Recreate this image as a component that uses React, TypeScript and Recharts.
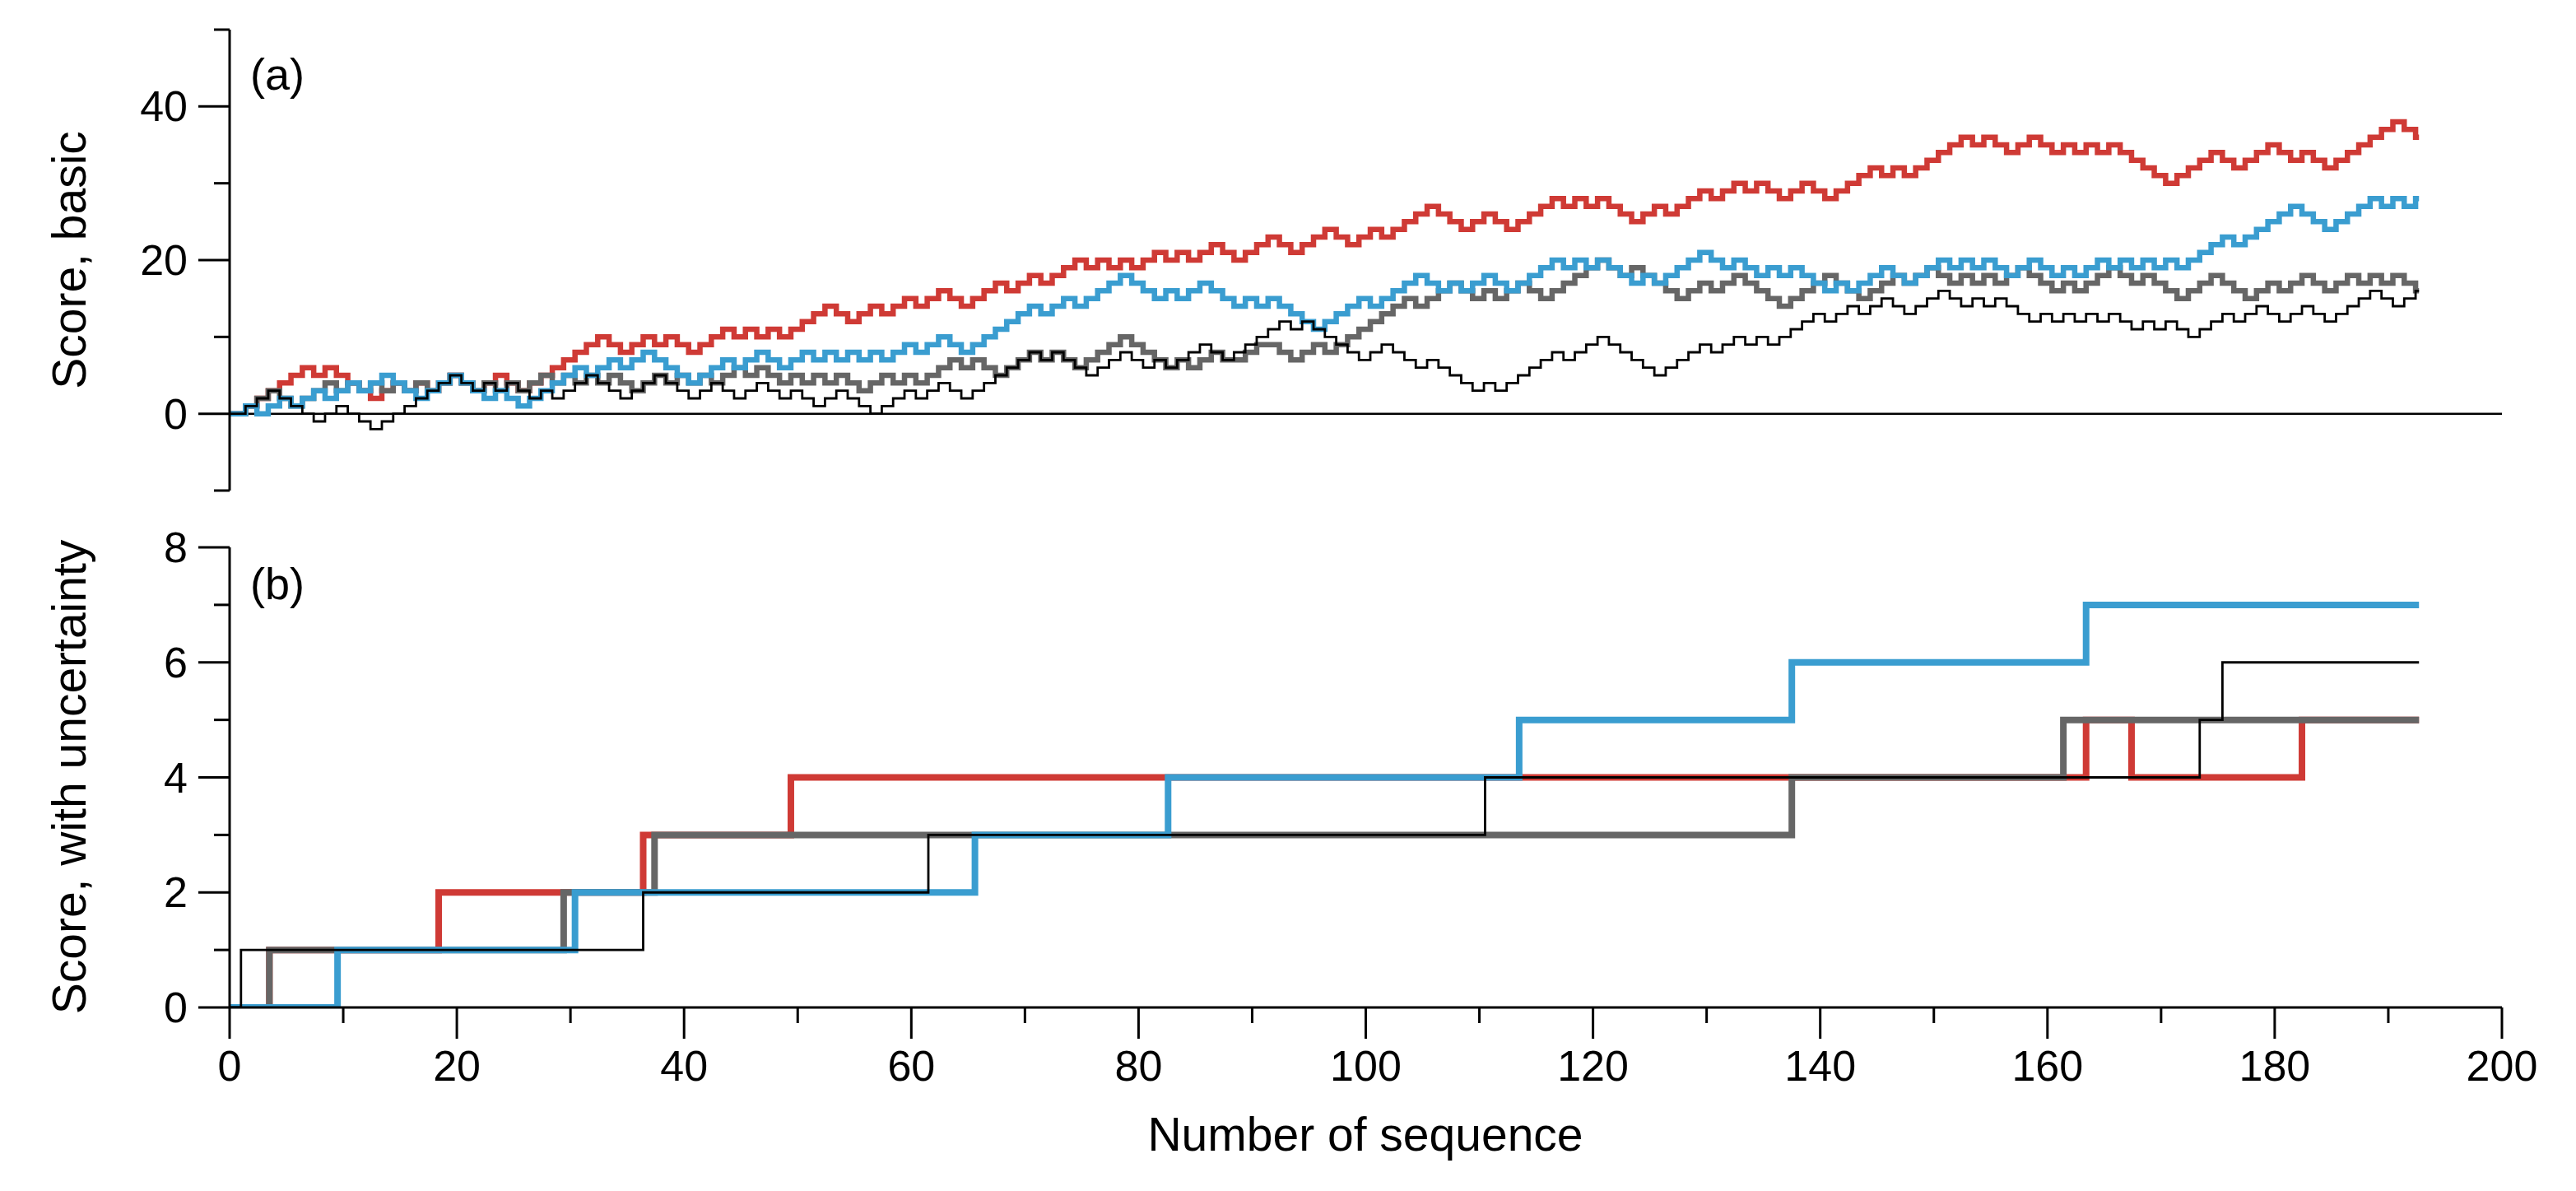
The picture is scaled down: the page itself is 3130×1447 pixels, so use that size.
import React from "react";
import { LineChart, Line, XAxis, YAxis, ReferenceLine } from "recharts";

const FONT = '"Liberation Sans", Arial, Helvetica, sans-serif';
const RED = "#cf3a35";
const BLUE = "#3a9dd0";
const GREY = "#666666";
const BLACK = "#000000";

// (a) basic score after each sequence (index = sequence number)
const basicRed = [
  0, 1, 2, 3, 4, 5, 6, 5, 6, 5, 4, 3, 2, 3, 4, 3, 4, 3, 4, 5,
  4, 3, 4, 5, 4, 3, 4, 5, 6, 7, 8, 9, 10, 9, 8, 9, 10, 9, 10, 9,
  8, 9, 10, 11, 10, 11, 10, 11, 10, 11, 12, 13, 14, 13, 12, 13, 14, 13, 14, 15,
  14, 15, 16, 15, 14, 15, 16, 17, 16, 17, 18, 17, 18, 19, 20, 19, 20, 19, 20, 19,
  20, 21, 20, 21, 20, 21, 22, 21, 20, 21, 22, 23, 22, 21, 22, 23, 24, 23, 22, 23,
  24, 23, 24, 25, 26, 27, 26, 25, 24, 25, 26, 25, 24, 25, 26, 27, 28, 27, 28, 27,
  28, 27, 26, 25, 26, 27, 26, 27, 28, 29, 28, 29, 30, 29, 30, 29, 28, 29, 30, 29,
  28, 29, 30, 31, 32, 31, 32, 31, 32, 33, 34, 35, 36, 35, 36, 35, 34, 35, 36, 35,
  34, 35, 34, 35, 34, 35, 34, 33, 32, 31, 30, 31, 32, 33, 34, 33, 32, 33, 34, 35,
  34, 33, 34, 33, 32, 33, 34, 35, 36, 37, 38, 37, 36,
];
const basicBlue = [
  0, 1, 0, 1, 2, 1, 2, 3, 2, 3, 4, 3, 4, 5, 4, 3, 2, 3, 4, 5,
  4, 3, 2, 3, 2, 1, 2, 3, 4, 5, 6, 5, 6, 7, 6, 7, 8, 7, 6, 5,
  4, 5, 6, 7, 6, 7, 8, 7, 6, 7, 8, 7, 8, 7, 8, 7, 8, 7, 8, 9,
  8, 9, 10, 9, 8, 9, 10, 11, 12, 13, 14, 13, 14, 15, 14, 15, 16, 17, 18, 17,
  16, 15, 16, 15, 16, 17, 16, 15, 14, 15, 14, 15, 14, 13, 12, 11, 12, 13, 14, 15,
  14, 15, 16, 17, 18, 17, 16, 17, 16, 17, 18, 17, 16, 17, 18, 19, 20, 19, 20, 19,
  20, 19, 18, 17, 18, 17, 18, 19, 20, 21, 20, 19, 20, 19, 18, 19, 18, 19, 18, 17,
  16, 17, 16, 17, 18, 19, 18, 17, 18, 19, 20, 19, 20, 19, 20, 19, 18, 19, 20, 19,
  18, 19, 18, 19, 20, 19, 20, 19, 20, 19, 20, 19, 20, 21, 22, 23, 22, 23, 24, 25,
  26, 27, 26, 25, 24, 25, 26, 27, 28, 27, 28, 27, 28,
];
const basicGrey = [
  0, 1, 2, 3, 2, 1, 2, 3, 4, 3, 4, 3, 4, 3, 4, 3, 4, 3, 4, 5,
  4, 3, 4, 3, 4, 3, 4, 5, 4, 5, 4, 5, 4, 5, 4, 3, 4, 5, 4, 5,
  4, 5, 4, 5, 6, 5, 6, 5, 4, 5, 4, 5, 4, 5, 4, 3, 4, 5, 4, 5,
  4, 5, 6, 7, 6, 7, 6, 5, 6, 7, 8, 7, 8, 7, 6, 7, 8, 9, 10, 9,
  8, 7, 6, 7, 6, 7, 8, 7, 7, 8, 9, 9, 8, 7, 8, 9, 8, 9, 10, 11,
  12, 13, 14, 15, 14, 15, 16, 17, 16, 15, 16, 15, 16, 17, 16, 15, 16, 17, 18, 19,
  20, 19, 18, 19, 18, 17, 16, 15, 16, 17, 16, 17, 18, 17, 16, 15, 14, 15, 16, 17,
  18, 17, 16, 15, 16, 17, 18, 17, 18, 19, 18, 17, 18, 17, 18, 17, 18, 19, 18, 17,
  16, 17, 16, 17, 18, 19, 18, 17, 18, 17, 16, 15, 16, 17, 18, 17, 16, 15, 16, 17,
  16, 17, 18, 17, 16, 17, 18, 17, 18, 17, 18, 17, 16,
];
const basicBlack = [
  0, 1, 2, 3, 2, 1, 0, -1, 0, 1, 0, -1, -2, -1, 0, 1, 2, 3, 4, 5,
  4, 3, 4, 3, 4, 3, 2, 3, 2, 3, 4, 5, 4, 3, 2, 3, 4, 5, 4, 3,
  2, 3, 4, 3, 2, 3, 4, 3, 2, 3, 2, 1, 2, 3, 2, 1, 0, 1, 2, 3,
  2, 3, 4, 3, 2, 3, 4, 5, 6, 7, 8, 7, 8, 7, 6, 5, 6, 7, 8, 7,
  6, 7, 6, 7, 8, 9, 8, 7, 8, 9, 10, 11, 12, 11, 12, 11, 10, 9, 8, 7,
  8, 9, 8, 7, 6, 7, 6, 5, 4, 3, 4, 3, 4, 5, 6, 7, 8, 7, 8, 9,
  10, 9, 8, 7, 6, 5, 6, 7, 8, 9, 8, 9, 10, 9, 10, 9, 10, 11, 12, 13,
  12, 13, 14, 13, 14, 15, 14, 13, 14, 15, 16, 15, 14, 15, 14, 15, 14, 13, 12, 13,
  12, 13, 12, 13, 12, 13, 12, 11, 12, 11, 12, 11, 10, 11, 12, 13, 12, 13, 14, 13,
  12, 13, 14, 13, 12, 13, 14, 15, 16, 15, 14, 15, 16,
];

// (b) score with uncertainty: sequence where the score changes, and the new score
const uncRedX = [0, 3.5, 18.4, 36.4, 49.4, 163.4, 167.4, 182.4, 192.7];
const uncRedY = [0, 1, 2, 3, 4, 5, 4, 5, 5];
const uncGreyX = [0, 3.5, 29.4, 37.4, 137.5, 161.4, 192.7];
const uncGreyY = [0, 1, 2, 3, 4, 5, 5];
const uncBlueX = [0, 9.5, 30.4, 65.6, 82.6, 113.5, 137.5, 163.4, 192.7];
const uncBlueY = [0, 1, 2, 3, 4, 5, 6, 7, 7];
const uncBlackX = [0, 1.0, 36.4, 61.5, 110.5, 173.4, 175.4, 192.7];
const uncBlackY = [0, 1, 2, 3, 4, 5, 6, 6];

const seqTicks = [0, 10, 20, 30, 40, 50, 60, 70, 80, 90, 100, 110, 120, 130, 140, 150, 160, 170, 180, 190, 200];
const seqLabels = [0, 20, 40, 60, 80, 100, 120, 140, 160, 180, 200];
const basicTicks = [-10, 0, 10, 20, 30, 40, 50];
const basicLabels = [0, 20, 40];
const uncTicks = [0, 1, 2, 3, 4, 5, 6, 7, 8];
const uncLabels = [0, 2, 4, 6, 8];

const SHIFT = 0.4; // steps sit a little after the whole sequence number
const END = 192.7;

const basicRows = basicRed.map((v, i) => ({
  seq: i === 0 ? 0 : i + SHIFT,
  red: v,
  grey: basicGrey[i],
  blue: basicBlue[i],
  black: basicBlack[i],
}));
basicRows.push({ ...basicRows[basicRows.length - 1], seq: END });

const toSteps = (xs: number[], ys: number[]) => xs.map((x, i) => ({ seq: x, v: ys[i] }));
const uncRed = toSteps(uncRedX, uncRedY);
const uncGrey = toSteps(uncGreyX, uncGreyY);
const uncBlue = toSteps(uncBlueX, uncBlueY);
const uncBlack = toSteps(uncBlackX, uncBlackY);

const MAJOR = 38;
const MINOR = 19;
const TICK_FONT = 52;
const TITLE_FONT = 57;

const yTick = (labels: number[]) => (props: any) => {
  const { x, y, payload } = props;
  const major = labels.includes(payload.value);
  return (
    <g>
      <line x1={x - (major ? MAJOR : MINOR)} x2={x} y1={y} y2={y} stroke={BLACK} strokeWidth={3} />
      {major && (
        <text x={x - 51} y={y} textAnchor="end" dominantBaseline="central" fontSize={TICK_FONT} fontFamily={FONT} fill={BLACK}>
          {payload.value}
        </text>
      )}
    </g>
  );
};

const xTick = (labels: number[]) => (props: any) => {
  const { x, y, payload } = props;
  const major = labels.includes(payload.value);
  return (
    <g>
      <line x1={x} x2={x} y1={y} y2={y + (major ? MAJOR : MINOR)} stroke={BLACK} strokeWidth={3} />
      {major && (
        <text x={x} y={y + 71} textAnchor="middle" dominantBaseline="central" fontSize={TICK_FONT} fontFamily={FONT} fill={BLACK}>
          {payload.value}
        </text>
      )}
    </g>
  );
};

const yTitle = (title: string, cy: number) => () => (
  <text x={84} y={cy} transform={`rotate(-90 84 ${cy})`} textAnchor="middle" dominantBaseline="central" fontSize={TITLE_FONT} fontFamily={FONT} fill={BLACK}>
    {title}
  </text>
);

const xTitle = () => (
  <text x={1659} y={758} textAnchor="middle" dominantBaseline="central" fontSize={TITLE_FONT} fontFamily={FONT} fill={BLACK}>
    Number of sequence
  </text>
);

const panelTag = (text: string, top: number) => (
  <div style={{ position: "absolute", left: 304, top, fontSize: 54, lineHeight: "54px", fontFamily: FONT, color: BLACK }}>{text}</div>
);

export default function App() {
  return (
    <div style={{ position: "absolute", left: 0, top: 0, width: 3130, height: 1447, background: "#fff", overflow: "hidden" }}>
      <div style={{ position: "absolute", left: 0, top: 0 }}>
        <LineChart width={3130} height={620} data={basicRows} margin={{ top: 36, right: 90, bottom: 24, left: 0 }}>
          <XAxis type="number" dataKey="seq" domain={[0, 200]} hide />
          <YAxis
            type="number"
            domain={[-10, 50]}
            ticks={basicTicks}
            interval={0}
            width={279}
            tickSize={0}
            tickMargin={0}
            tickLine={false}
            axisLine={{ stroke: BLACK, strokeWidth: 3 }}
            tick={yTick(basicLabels)}
            label={yTitle("Score, basic", 316)}
            allowDataOverflow
          />
          <ReferenceLine y={0} stroke={BLACK} strokeWidth={2.5} />
          <Line type="stepAfter" dataKey="red" stroke={RED} strokeWidth={6.5} dot={false} activeDot={false} isAnimationActive={false} />
          <Line type="stepAfter" dataKey="grey" stroke={GREY} strokeWidth={6.5} dot={false} activeDot={false} isAnimationActive={false} />
          <Line type="stepAfter" dataKey="blue" stroke={BLUE} strokeWidth={6.5} dot={false} activeDot={false} isAnimationActive={false} />
          <Line type="stepAfter" dataKey="black" stroke={BLACK} strokeWidth={2.8} dot={false} activeDot={false} isAnimationActive={false} />
        </LineChart>
      </div>
      <div style={{ position: "absolute", left: 0, top: 620 }}>
        <LineChart width={3130} height={827} margin={{ top: 45, right: 90, bottom: 0, left: 0 }}>
          <XAxis
            type="number"
            dataKey="seq"
            domain={[0, 200]}
            ticks={seqTicks}
            interval={0}
            height={223}
            tickSize={0}
            tickMargin={0}
            tickLine={false}
            axisLine={{ stroke: BLACK, strokeWidth: 3 }}
            tick={xTick(seqLabels)}
            label={xTitle}
            allowDataOverflow
          />
          <YAxis
            type="number"
            domain={[0, 8]}
            ticks={uncTicks}
            interval={0}
            width={279}
            tickSize={0}
            tickMargin={0}
            tickLine={false}
            axisLine={{ stroke: BLACK, strokeWidth: 3 }}
            tick={yTick(uncLabels)}
            label={yTitle("Score, with uncertainty", 324)}
            allowDataOverflow
          />
          <Line data={uncRed} type="stepAfter" dataKey="v" stroke={RED} strokeWidth={8} dot={false} activeDot={false} isAnimationActive={false} />
          <Line data={uncGrey} type="stepAfter" dataKey="v" stroke={GREY} strokeWidth={8} dot={false} activeDot={false} isAnimationActive={false} />
          <Line data={uncBlue} type="stepAfter" dataKey="v" stroke={BLUE} strokeWidth={8} dot={false} activeDot={false} isAnimationActive={false} />
          <Line data={uncBlack} type="stepAfter" dataKey="v" stroke={BLACK} strokeWidth={2.8} dot={false} activeDot={false} isAnimationActive={false} />
        </LineChart>
      </div>
      {panelTag("(a)", 63)}
      {panelTag("(b)", 682)}
    </div>
  );
}
